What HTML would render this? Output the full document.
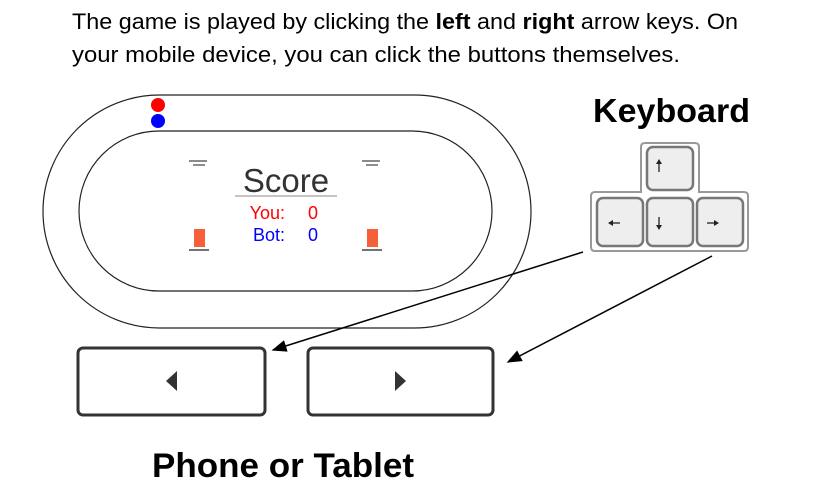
<!DOCTYPE html>
<html><head><meta charset="utf-8"><style>
body{margin:0;width:829px;height:493px;background:#fff;overflow:hidden;font-family:"Liberation Sans",sans-serif}
</style></head><body>
<svg width="829" height="493" viewBox="0 0 829 493" xmlns="http://www.w3.org/2000/svg">
<text x="72" y="29" font-size="22" fill="#000" textLength="666" lengthAdjust="spacingAndGlyphs">The game is played by clicking the <tspan font-weight="bold">left</tspan> and <tspan font-weight="bold">right</tspan> arrow keys. On</text>
<text x="72" y="62" font-size="22" fill="#000" textLength="608" lengthAdjust="spacingAndGlyphs">your mobile device, you can click the buttons themselves.</text>

<g fill="none" stroke="#222" stroke-width="1.2">
<rect x="43" y="95" width="488" height="233" rx="116.5"/>
<rect x="79" y="131" width="413" height="160" rx="80"/>
</g>
<circle cx="158" cy="105" r="7" fill="#f00"/>
<circle cx="158" cy="121" r="7" fill="#00f"/>
<g stroke="#444" stroke-width="1.2">
<line x1="189" y1="161" x2="207" y2="161"/><line x1="193" y1="165" x2="205" y2="165"/>
<line x1="362" y1="161" x2="380" y2="161"/><line x1="366" y1="165" x2="378" y2="165"/>
</g>
<text x="286" y="192" font-size="33" fill="#333" text-anchor="middle">Score</text>
<line x1="235" y1="196" x2="337" y2="196" stroke="#888"/>
<text x="285" y="219" font-size="18" fill="#f00" text-anchor="end">You:</text>
<text x="313" y="219" font-size="18" fill="#f00" text-anchor="middle">0</text>
<text x="285" y="241" font-size="18" fill="#00f" text-anchor="end">Bot:</text>
<text x="313" y="241" font-size="18" fill="#00f" text-anchor="middle">0</text>
<g>
<rect x="194" y="229" width="11" height="18" fill="#f5603a"/><line x1="189" y1="250" x2="209" y2="250" stroke="#444" stroke-width="1.5"/>
<rect x="367" y="229" width="11" height="18" fill="#f5603a"/><line x1="362" y1="250" x2="382" y2="250" stroke="#444" stroke-width="1.5"/>
</g>

<text x="593" y="122" font-size="33" font-weight="bold" fill="#000" textLength="157" lengthAdjust="spacingAndGlyphs">Keyboard</text>
<g>
<path d="M645,143 H695 Q699,143 699,147 V192 H744 Q748,192 748,196 V247 Q748,251 744,251 H595 Q591,251 591,247 V196 Q591,192 595,192 H641 V147 Q641,143 645,143 Z" fill="#fff" stroke="#999" stroke-width="2"/>
<g fill="#eee" stroke="#777" stroke-width="2.5">
<rect x="647" y="147" width="46" height="43" rx="6"/>
<rect x="597" y="198" width="46" height="48" rx="6"/>
<rect x="647" y="198" width="46" height="48" rx="6"/>
<rect x="697" y="198" width="46" height="48" rx="6"/>
</g>
<g stroke="#222" stroke-width="1.3" fill="#222">
<line x1="659" y1="172" x2="659" y2="162"/><path d="M656,164 L659,159 L662,164 Z" stroke="none"/>
<line x1="659" y1="217" x2="659" y2="227"/><path d="M656,225 L659,230 L662,225 Z" stroke="none"/>
<line x1="612" y1="223" x2="620" y2="223"/><path d="M613,220 L608,223 L613,226 Z" stroke="none"/>
<line x1="707" y1="223" x2="715" y2="223"/><path d="M714,220 L719,223 L714,226 Z" stroke="none"/>
</g>
</g>

<defs><marker id="ah" markerWidth="10" markerHeight="8" refX="9" refY="4" orient="auto"><path d="M0,0 L10,4 L0,8 Z" fill="#000"/></marker></defs>
<line x1="583" y1="252" x2="273" y2="350" stroke="#000" stroke-width="1.5" marker-end="url(#ah)"/>
<line x1="712" y1="256" x2="508" y2="362" stroke="#000" stroke-width="1.5" marker-end="url(#ah)"/>

<g>
<rect x="78" y="348" width="187" height="67" rx="5" fill="#fff" stroke="#333" stroke-width="3"/>
<path d="M166,381 L177,371 L177,391 Z" fill="#333"/>
</g>
<g>
<rect x="308" y="348" width="185" height="67" rx="5" fill="#fff" stroke="#333" stroke-width="3"/>
<path d="M406,381 L395,371 L395,391 Z" fill="#333"/>
</g>
<text x="152" y="477" font-size="34" font-weight="bold" fill="#000" textLength="262" lengthAdjust="spacingAndGlyphs">Phone or Tablet</text>
</svg>
</body></html>
